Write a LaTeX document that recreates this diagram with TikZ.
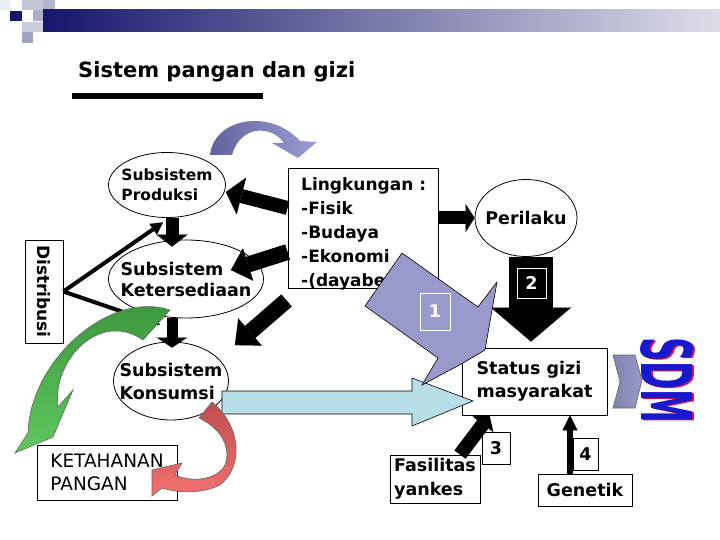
\documentclass[tikz,border=0pt]{standalone}
\usepackage{fontspec}
\setmainfont{DejaVu Sans}
\usetikzlibrary{shapes.geometric, arrows.meta, positioning}

\definecolor{navy}{RGB}{22,22,108}
\definecolor{barend}{RGB}{222,222,234}
\definecolor{archleft}{RGB}{98,98,158}
\definecolor{archright}{RGB}{158,158,214}
\definecolor{lavender}{RGB}{153,153,204}
\definecolor{skyblue}{RGB}{184,222,232}
\definecolor{greentop}{RGB}{58,148,58}
\definecolor{greenbottom}{RGB}{96,200,96}
\definecolor{redtop}{RGB}{190,78,78}
\definecolor{redbottom}{RGB}{244,112,112}
\definecolor{sdmblue}{RGB}{24,24,204}
\definecolor{sdmred}{RGB}{210,20,70}

\tikzset{
  subsys/.style={ellipse, draw, line width=0.8pt, inner sep=0pt},
  subtext/.style={align=left, font=\fontsize{17.5}{21}\selectfont\bfseries},
  box/.style={draw, line width=0.8pt, inner sep=0pt, fill=white},
  boxtext/.style={align=left, font=\fontsize{17.5}{23}\selectfont\bfseries},
  blockarrow/.style n args={3}{line width=#1, -{Triangle[width=#2, length=#3, line width=0.01pt]}},
  distline/.style={line width=4pt, -{Triangle[width=13pt, length=12pt, line width=0.01pt]}},
  numbox/.style={draw=white, text=white, line width=0.8pt, minimum width=29pt, minimum height=30pt, inner sep=0pt, font=\fontsize{17.5}{21}\selectfont\bfseries}
}

\begin{document}
\begin{tikzpicture}[x=1pt, y=-1pt]
\useasboundingbox (0,0) rectangle (720,540);
\fill[white] (0,0) rectangle (720,540);

% header squares and bar
\fill[navy!8] (0,0) rectangle (11,10);
\fill[navy!25] (22,0) rectangle (43,10);
\fill[navy!32] (43,0) rectangle (55,10);
\fill[navy] (10,11) rectangle (22,21);
\fill[navy!35] (33,10) rectangle (43,21);
\fill[navy!22] (22,22) rectangle (43,32);
\fill[navy!40] (22,32) rectangle (33,43);
\shade[left color=navy, right color=barend] (43,10) rectangle (720,32);

% title
\node[anchor=base west, inner sep=0pt, font=\fontsize{21}{25}\selectfont\bfseries] (title) at (78,78) {Sistem pangan dan gizi};
\fill (72,93) rectangle (263,99);

% arch arrow
\shade[left color=archleft, right color=archright] (210,155) .. controls (214,118) and (270,108) .. (300,141) -- (317,142) -- (298,158) -- (272,143) -- (284,143) .. controls (270,124) and (240,126) .. (232,155) -- cycle;

% subsystems
\node[subsys, minimum width=117pt, minimum height=65pt, label={[subtext, font=\fontsize{15.5}{20}\selectfont\bfseries]center:{Subsistem\\Produksi}}] (prod) at (167,185) {};
\node[subsys, minimum width=155pt, minimum height=78pt, label={[subtext]center:{Subsistem\\Ketersediaan}}] (keters) at (186,279) {};
\node[subsys, minimum width=115pt, minimum height=78pt, label={[subtext, font=\fontsize{17.5}{23}\selectfont\bfseries]center:{Subsistem\\Konsumsi}}] (kons) at (171,381) {};
\node[subsys, minimum width=102pt, minimum height=77pt, label={[subtext]center:Perilaku}] (peri) at (526,218) {};

% boxes
\node[box, minimum width=38pt, minimum height=103pt, label={[rotate=-90, font=\fontsize{17}{20}\selectfont\bfseries]center:Distribusi}] (distr) at (44,291.5) {};
\node[box, minimum width=150pt, minimum height=120pt] (lingk) at (363,228) {};
\node[anchor=north west, inner sep=0pt, align=left, font=\fontsize{17}{24}\selectfont\bfseries] (lingktext) at (301,177) {Lingkungan :\\-Fisik\\-Budaya\\-Ekonomi\\-(dayabeli)};
\node[box, boxtext, minimum width=145pt, minimum height=67pt] (status) at (534.5,381.5) {Status gizi\\masyarakat};
\node[box, align=left, font=\fontsize{18.5}{23}\selectfont, minimum width=140pt, minimum height=55pt] (ketahanan) at (107,472.5) {KETAHANAN\\PANGAN};
\node[box, align=left, font=\fontsize{17.5}{24}\selectfont\bfseries, minimum width=90pt, minimum height=48pt] (fasil) at (435,479) {Fasilitas\\yankes};
\node[box, boxtext, minimum width=28pt, minimum height=32pt] (three) at (496,448) {3};
\node[box, boxtext, minimum width=25pt, minimum height=32pt] (four) at (585.5,454) {4};
\node[box, boxtext, minimum width=94pt, minimum height=32pt] (gen) at (585,490) {Genetik};

% black block arrows
\draw[blockarrow={14pt}{38pt}{16pt}] ([yshift=20]lingk.west) -- ([yshift=-7]prod.east);
\draw[blockarrow={16pt}{34pt}{18pt}] ([yshift=-24]lingk.west) -- ([xshift=-33,yshift=9]keters.east);
\draw[blockarrow={16pt}{36pt}{20pt}] ([xshift=-1,yshift=-12]lingk.south west) -- ([xshift=23,yshift=8]kons.north east);
\draw[blockarrow={13pt}{28pt}{9pt}] ([yshift=10]lingk.east) -- (peri.west);
\draw[blockarrow={13pt}{31pt}{12pt}] ([xshift=5]prod.south) -- ([xshift=-14,yshift=-7]keters.north);
\draw[blockarrow={11pt}{30pt}{10pt}] ([xshift=-14]keters.south) -- ([xshift=1,yshift=-6]kons.north);
\draw[blockarrow={44pt}{80pt}{34pt}] ([xshift=5]peri.south) -- ([xshift=-3.5,yshift=6]status.north);
\draw[blockarrow={14pt}{26pt}{11pt}] ([xshift=25]fasil.north) -- ([xshift=-45]status.south);
\draw[blockarrow={6pt}{15pt}{15pt}] ([xshift=-15]gen.north) -- ([xshift=35.5]status.south);

% distribusi lines
\draw[distline] (distr.east) -- ([xshift=-4,yshift=-4.5]prod.south);
\draw[distline] (distr.east) -- ([xshift=-11,yshift=17]kons.north);

% green curved arrow
\shadedraw[top color=greentop, bottom color=greenbottom, draw=black!60, line width=0.6pt] (170,310) .. controls (110,290) and (30,360) .. (28,433) -- (15,453) -- (53,437) -- (73,390) -- (58,407) .. controls (52,360) and (100,310) .. (143,340) -- cycle;

% light blue arrow
\draw[fill=skyblue, line width=0.6pt] (222,391) -- (412,391) -- (412,378) -- (473,401) -- (412,426) -- (412,414) -- (222,414) -- cycle;

% purple arrow 1
\draw[fill=lavender, line width=0.6pt] (402,253) -- (365,306) -- (438,358) -- (422,385) -- (463,363) -- (485,350) -- (497,282) -- (478,307) -- cycle;
\node[numbox, minimum width=30pt, minimum height=37pt] (one) at (435,311.5) {1};

% red curved arrow
\shadedraw[top color=redtop, bottom color=redbottom, draw=black!60, line width=0.6pt] (212,402) .. controls (240,425) and (245,465) .. (220,485) .. controls (200,495) and (175,492) .. (162,488) -- (152,496) -- (152,470) -- (182,463) -- (175,475) .. controls (195,484) and (222,478) .. (226,462) .. controls (230,445) and (220,428) .. (199,418) -- cycle;

% chevron and SDM
\shadedraw[left color=lavender!85!black, right color=lavender, draw=black!60, line width=0.6pt] (613,355) -- (635,355) -- (642,380) -- (635,408) -- (613,408) -- (620,382) -- cycle;
\node[rotate=-90, xscale=0.48, text=sdmred, font=\fontsize{70}{70}\selectfont\bfseries] (sdmshade) at (668.5,381) {SDM};
\node[rotate=-90, xscale=0.48, text=sdmblue, font=\fontsize{70}{70}\selectfont\bfseries] (sdm) at (667,380) {SDM};

\node[numbox] (two) at (531.5,283.5) {2};
\end{tikzpicture}
\end{document}
